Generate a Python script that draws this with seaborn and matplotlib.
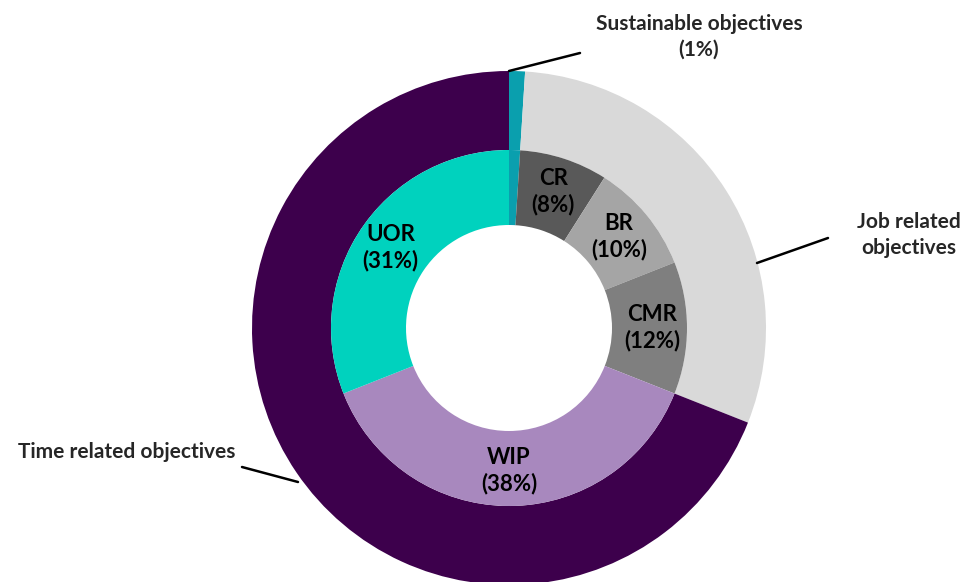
import matplotlib
matplotlib.use("Agg")
import numpy as np
import matplotlib.pyplot as plt
import seaborn as sns

outer_labels = ["Sustainable objectives\n(1%)", "Job related\nobjectives", "Time related objectives"]
outer_values = [1, 30, 69]
outer_colors = ["#0a9fae", "#d9d9d9", "#3d004c"]

inner_labels = ["", "CR", "BR", "CMR", "WIP", "UOR"]
inner_values = [1, 8, 10, 12, 38, 31]
inner_colors = ["#0a9fae", "#595959", "#a5a5a5", "#7f7f7f", "#a888be", "#00d2be"]

sns.set_theme(style="white")
plt.rcParams['font.family'] = ['Lato', 'DejaVu Sans']

fig = plt.figure(figsize=(9.68, 5.82), dpi=100)
ax = fig.add_axes([0, 0, 1, 1])

cx, cy = 509, 328
r_out, r_mid, r_in = 257, 178, 103

# y axis runs downward like pixels, so counterclock=True from 270 goes clockwise from the top on screen
ax.pie(outer_values, radius=r_out, center=(cx, cy), startangle=270, counterclock=True,
       colors=outer_colors, wedgeprops=dict(width=r_out - r_mid, linewidth=0))
wedges, _ = ax.pie(inner_values, radius=r_mid, center=(cx, cy), startangle=270, counterclock=True,
                   colors=inner_colors, wedgeprops=dict(width=r_mid - r_in, linewidth=0))

r_lab = 143
for w, lab, val in zip(wedges, inner_labels, inner_values):
    if not lab:
        continue
    t = np.deg2rad((w.theta1 + w.theta2) / 2)
    ax.text(cx + r_lab * np.cos(t), cy + r_lab * np.sin(t), f"{lab}\n({val}%)",
            ha="center", va="center", fontsize=16, fontweight="bold", color="black", linespacing=1.25)

# leader lines + outer labels
line_kw = dict(color="black", lw=1.8)
ax.plot([509, 580], [71, 53], **line_kw)
ax.text(699, 37, outer_labels[0], ha="center", va="center", fontsize=15, fontweight="bold", linespacing=1.35)
ax.plot([757, 828], [263, 238], **line_kw)
ax.text(909, 235, outer_labels[1], ha="center", va="center", fontsize=15, fontweight="bold", linespacing=1.35)
ax.plot([298, 242], [482, 467], **line_kw)
ax.text(18, 452, outer_labels[2], ha="left", va="center", fontsize=15, fontweight="bold")

ax.set_xlim(0, 968)
ax.set_ylim(582, 0)
ax.set_aspect("equal")
ax.axis("off")

fig.savefig("out.png", dpi=100)
